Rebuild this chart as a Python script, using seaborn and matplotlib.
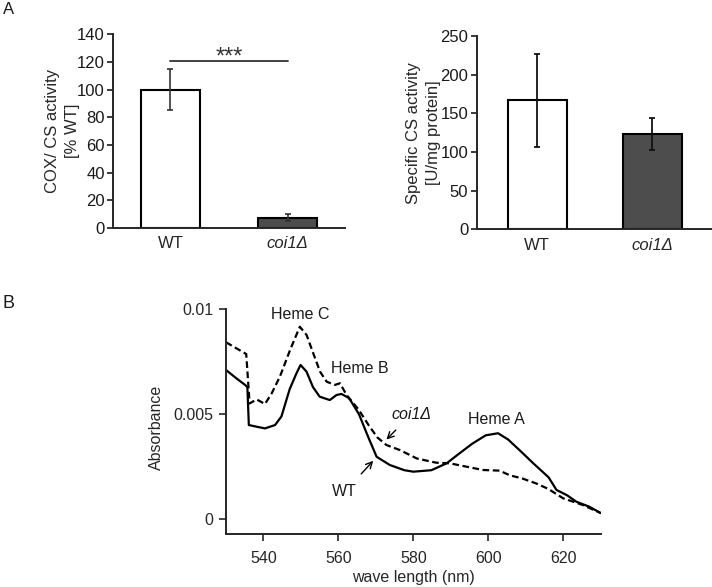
import numpy as np
import pandas as pd
import matplotlib
matplotlib.use("Agg")
import matplotlib.pyplot as plt
import seaborn as sns

# ---------------- data ----------------
genotypes = ["WT", "coi1Δ"]
cox_cs = [100.0, 7.5]
cox_cs_err = [15.0, 2.4]
cs_activity = [167.0, 123.0]
cs_activity_err = [60.0, 21.0]

wt_nm = [530, 532.8, 535.1, 535.7, 536.1, 538.2, 540.4, 543.1, 544.8, 547.0, 548.8,
         549.9, 551.5, 553.2, 555.0, 557.7, 559.5, 560.8, 562.6, 563.1, 565.5, 568.0,
         570.2, 573.7, 577.6, 580.0, 584.8, 588.9, 592.0, 595.7, 599.3, 602.6, 605.3,
         608.9, 612.0, 616.1, 618.2, 621.0, 623.5, 627.0, 630.0]
wt_abs = [0.00711, 0.00671, 0.00640, 0.00630, 0.00449, 0.00441, 0.00433, 0.00449, 0.00490,
          0.00620, 0.00695, 0.00735, 0.00703, 0.00630, 0.00584, 0.00568, 0.00592, 0.00597,
          0.00580, 0.00570, 0.00500, 0.00390, 0.00298, 0.00259, 0.00234, 0.00227, 0.00234,
          0.00267, 0.00310, 0.00360, 0.00400, 0.00410, 0.00380, 0.00320, 0.00267, 0.00200,
          0.00140, 0.00115, 0.00084, 0.00060, 0.00030]

ko_nm = [530, 532.8, 535.4, 536.3, 538.2, 540.4, 542.2, 544.4, 547.1, 549.7, 551.5,
         553.3, 555.1, 556.9, 559.1, 560.4, 562.2, 565.5, 568.0, 570.4, 572.8, 576.4,
         580.9, 586.0, 589.7, 593.0, 598.6, 603.0, 605.7, 609.0, 612.8, 616.0, 620.0,
         622.5, 625.3, 627.5, 630.0]
ko_abs = [0.00843, 0.00814, 0.00787, 0.00552, 0.00571, 0.00549, 0.00600, 0.00680, 0.00806,
          0.00917, 0.00878, 0.00790, 0.00703, 0.00655, 0.00640, 0.00648, 0.00592, 0.00520,
          0.00450, 0.00390, 0.00354, 0.00330, 0.00290, 0.00270, 0.00267, 0.00255, 0.00235,
          0.00232, 0.00210, 0.00195, 0.00171, 0.00145, 0.00100, 0.00085, 0.00068, 0.00050,
          0.00030]

# ---------------- style ----------------
sns.set_style("white")
plt.rcParams["font.family"] = ["Liberation Sans", "DejaVu Sans"]
plt.rcParams["axes.linewidth"] = 1.4
plt.rcParams["text.color"] = "#1a1a1a"

fig = plt.figure(figsize=(7.12, 5.87), dpi=100)

bar_colors = ["white", "#4d4d4d"]
FS = 12
FSB = 11.5


def style_bar_axes(ax, ymax, step, labelx):
    sns.despine(ax=ax)
    ax.set_ylim(0, ymax)
    ax.set_yticks(np.arange(0, ymax + 1, step))
    ax.tick_params(axis="y", direction="out", length=4, width=1.2, pad=2,
                   labelsize=FS, left=True, colors="#1a1a1a")
    ax.tick_params(axis="x", length=0, pad=6, labelsize=FS)
    ax.set_xlabel("")
    ax.get_xticklabels()[1].set_style("italic")
    ax.yaxis.set_label_coords(labelx, 0.5)


# ---- Panel A left ----
axL = fig.add_axes([0.1591, 0.6116, 0.3254, 0.3300])
dfA = pd.DataFrame({"genotype": genotypes, "value": cox_cs})
sns.barplot(data=dfA, x="genotype", y="value", hue="genotype", palette=bar_colors,
            edgecolor="black", linewidth=1.5, width=0.5, legend=False, ax=axL)
axL.errorbar(range(len(genotypes)), cox_cs, yerr=cox_cs_err, fmt="none",
             ecolor="#333333", elinewidth=1.2, capsize=2, capthick=1.2)
axL.set_xlim(-0.487, 1.487)
axL.set_ylabel("COX/ CS activity\n[% WT]", fontsize=FS, linespacing=1.45)
style_bar_axes(axL, 140, 20, -0.144)
axL.plot([0, 1], [120.5, 120.5], color="#333333", lw=1.3)
axL.text(0.5, 118.6, "***", ha="center", va="baseline", fontsize=17, color="#333333")

# ---- Panel A right ----
axR = fig.add_axes([0.6695, 0.6094, 0.3305, 0.3293])
dfB = pd.DataFrame({"genotype": genotypes, "value": cs_activity})
sns.barplot(data=dfB, x="genotype", y="value", hue="genotype", palette=bar_colors,
            edgecolor="black", linewidth=1.5, width=0.51, legend=False, ax=axR)
axR.errorbar(range(len(genotypes)), cs_activity, yerr=cs_activity_err, fmt="none",
             ecolor="#111111", elinewidth=1.3, capsize=2.4, capthick=1.3)
axR.set_xlim(-0.526, 1.517)
axR.set_ylabel("Specific CS activity\n[U/mg protein]", fontsize=FS, linespacing=1.4)
style_bar_axes(axR, 250, 50, -0.152)

# ---- Panel B ----
axB = fig.add_axes([0.3174, 0.0898, 0.5263, 0.3833])
sns.lineplot(x=wt_nm, y=wt_abs, color="black", lw=1.6, ax=axB)
sns.lineplot(x=ko_nm, y=ko_abs, color="black", lw=1.6, ax=axB, dashes=False)
axB.lines[1].set_dashes([3, 1.6])
axB.set_xlim(530, 630)
axB.set_ylim(-0.00071, 0.01)
sns.despine(ax=axB)
axB.spines["left"].set_bounds(-0.00071, 0.01)
axB.set_yticks([0, 0.005, 0.01])
axB.set_yticklabels(["0", "0.005", "0.01"])
axB.set_xticks([540, 560, 580, 600, 620])
axB.tick_params(axis="y", direction="out", length=5, width=1.2, labelsize=FSB,
                left=True, pad=4)
axB.tick_params(axis="x", direction="out", length=5, width=1.2, labelsize=FSB,
                bottom=True, pad=7)
axB.set_xlabel("wave length (nm)", fontsize=FSB, labelpad=3)
axB.set_ylabel("Absorbance", fontsize=FSB)
axB.yaxis.set_label_coords(-0.165, 0.475)

axB.text(549.7, 0.00973, "Heme C", ha="center", va="center", fontsize=FSB, clip_on=False)
axB.text(565.7, 0.00719, "Heme B", ha="center", va="center", fontsize=FSB)
axB.text(602.2, 0.00476, "Heme A", ha="center", va="center", fontsize=FSB)
axB.annotate("coi1Δ", xy=(572.8, 0.0038), xytext=(579.5, 0.0050), ha="center",
             va="center", fontsize=FSB, style="italic",
             arrowprops=dict(arrowstyle="->", color="black", lw=1.0,
                             shrinkA=5, shrinkB=0))
axB.annotate("WT", xy=(569.3, 0.00279), xytext=(561.7, 0.00131), ha="center",
             va="center", fontsize=FSB,
             arrowprops=dict(arrowstyle="->", color="black", lw=1.0,
                             shrinkA=7, shrinkB=0))

fig.text(0.004, 1 - 10 / 587, "A", fontsize=12, va="center", ha="left")
fig.text(0.004, 1 - 304 / 587, "B", fontsize=13, va="center", ha="left")

fig.savefig("out.png", dpi=100)
